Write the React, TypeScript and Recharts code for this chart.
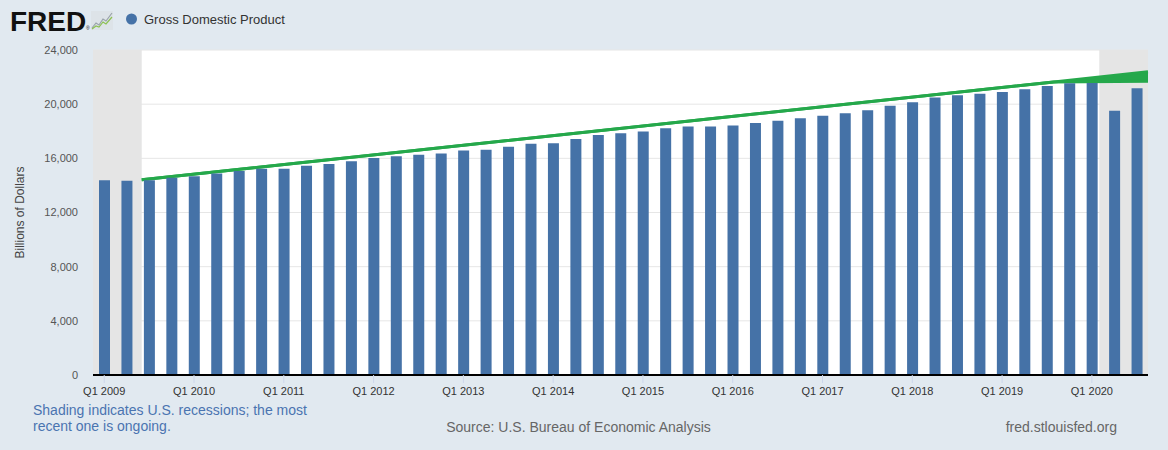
import React from 'react';
import { ComposedChart, Bar, Area, XAxis, YAxis, CartesianGrid, ReferenceArea } from 'recharts';

// Quarterly GDP, Q1 2009 .. Q3 2020 (billions of dollars)
const gdp = [
  14381, 14342, 14384, 14566,
  14681, 14889, 15057, 15231,
  15239, 15461, 15588, 15785,
  16020, 16152, 16257, 16358,
  16570, 16638, 16849, 17084,
  17105, 17432, 17721, 17849,
  17984, 18219, 18345, 18350,
  18425, 18612, 18776, 18968,
  19153, 19322, 19558, 19882,
  20143, 20492, 20660, 20767,
  20897, 21099, 21340, 21542,
  21561, 19520, 21170,
];

// x-axis ticks (quarter index from Q1 2009) and labels
const tickQuarters = [0, 4, 8, 12, 16, 20, 24, 28, 32, 36, 40, 44];
const tickLabels = [
  'Q1 2009', 'Q1 2010', 'Q1 2011', 'Q1 2012', 'Q1 2013', 'Q1 2014',
  'Q1 2015', 'Q1 2016', 'Q1 2017', 'Q1 2018', 'Q1 2019', 'Q1 2020',
];
const yTicks = [0, 4000, 8000, 12000, 16000, 20000, 24000];

// recession shading (quarter index)
const recessionStart = [-0.5, 44.33];
const recessionEnd = [1.67, 46.5];

// hand-drawn trend (quarter index, low, high)
const trendQuarter = [1.67, 42.3, 46.5];
const trendLow = [14420, 21640, 21700];
const trendHigh = [14420, 21640, 22400];

const barRows = gdp.map((v, i) => ({ q: i, gdp: v }));
const trendRows = trendQuarter.map((q, i) => ({ q, range: [trendLow[i], trendHigh[i]] }));

const FONT = '"Liberation Sans", Arial, Helvetica, sans-serif';
const BAR = '#4572a7';
const GREEN = '#25a84b';

const fmt = (v: number) => v.toLocaleString('en-US');

export default function App() {
  return (
    <div
      style={{
        position: 'absolute',
        left: 0,
        top: 0,
        width: 1168,
        height: 450,
        background: '#e1e9f0',
        fontFamily: FONT,
        overflow: 'hidden',
      }}
    >
      <ComposedChart
        width={1168}
        height={450}
        data={barRows}
        margin={{ top: 50, right: 20, bottom: 45, left: 0 }}
      >
        <CartesianGrid vertical={false} stroke="#e6e6e6" fill="#ffffff" />
        {recessionStart.map((s, i) => (
          <ReferenceArea
            key={i}
            x1={s}
            x2={recessionEnd[i]}
            fill="#e5e5e5"
            fillOpacity={1}
            stroke="none"
            ifOverflow="hidden"
          />
        ))}
        <XAxis
          type="number"
          dataKey="q"
          domain={[-0.5, 46.5]}
          ticks={tickQuarters}
          interval={0}
          height={30}
          tickFormatter={(v: number) => tickLabels[tickQuarters.indexOf(v)] ?? ''}
          axisLine={{ stroke: '#000000', strokeWidth: 2 }}
          tickLine={{ stroke: '#ccd6eb' }}
          tickSize={8}
          tickMargin={4}
          tick={{ fill: '#333333', fontSize: 11, fontFamily: FONT }}
        />
        <XAxis xAxisId="t" type="number" dataKey="q" domain={[-0.5, 46.5]} hide />
        <YAxis
          type="number"
          domain={[0, 24000]}
          ticks={yTicks}
          width={93}
          axisLine={false}
          tickLine={false}
          tickSize={0}
          tickMargin={15}
          tickFormatter={fmt}
          tick={{ fill: '#555555', fontSize: 11, fontFamily: FONT }}
        />
        <Bar dataKey="gdp" fill={BAR} barSize={11} isAnimationActive={false} />
        <Area
          xAxisId="t"
          data={trendRows}
          dataKey="range"
          type="linear"
          stroke={GREEN}
          strokeWidth={3}
          fill={GREEN}
          fillOpacity={1}
          dot={false}
          activeDot={false}
          isAnimationActive={false}
        />
      </ComposedChart>

      <svg
        width={1168}
        height={450}
        style={{ position: 'absolute', left: 0, top: 0, pointerEvents: 'none' }}
        fontFamily={FONT}
      >
        {/* FRED logo */}
        <text x={10} y={31} fontSize={28} fontWeight={900} fill="#111111">
          FRED
        </text>
        <text x={86} y={30} fontSize={5} fill="#111111">®</text>
        <g transform="translate(91,11)">
          <rect x={0} y={0} width={22} height={19} fill="#dde3e8" />
          <polyline points="1,17 5,12 8,14 12,8 15,10 21,2" fill="none" stroke="#9aa3ab" strokeWidth={1.2} />
          <polyline points="1,18 5,15 8,16 12,11 15,13 21,6" fill="none" stroke="#8cc152" strokeWidth={1.2} />
        </g>

        {/* legend */}
        <circle cx={131.5} cy={19} r={5.5} fill={BAR} />
        <text x={144} y={24} fontSize={13} fill="#333333">Gross Domestic Product</text>

        {/* y-axis title */}
        <text
          transform="translate(24,212.5) rotate(-90)"
          textAnchor="middle"
          fontSize={12}
          fill="#444444"
        >
          Billions of Dollars
        </text>

        {/* footer */}
        <text x={33} y={414.5} fontSize={14} fill="#4a74b0">
          Shading indicates U.S. recessions; the most
        </text>
        <text x={33} y={430.5} fontSize={14} fill="#4a74b0">
          recent one is ongoing.
        </text>
        <text x={578.5} y={431.5} fontSize={14} fill="#666666" textAnchor="middle">
          Source: U.S. Bureau of Economic Analysis
        </text>
        <text x={1117} y={431.5} fontSize={14} fill="#666666" textAnchor="end">
          fred.stlouisfed.org
        </text>
      </svg>
    </div>
  );
}
